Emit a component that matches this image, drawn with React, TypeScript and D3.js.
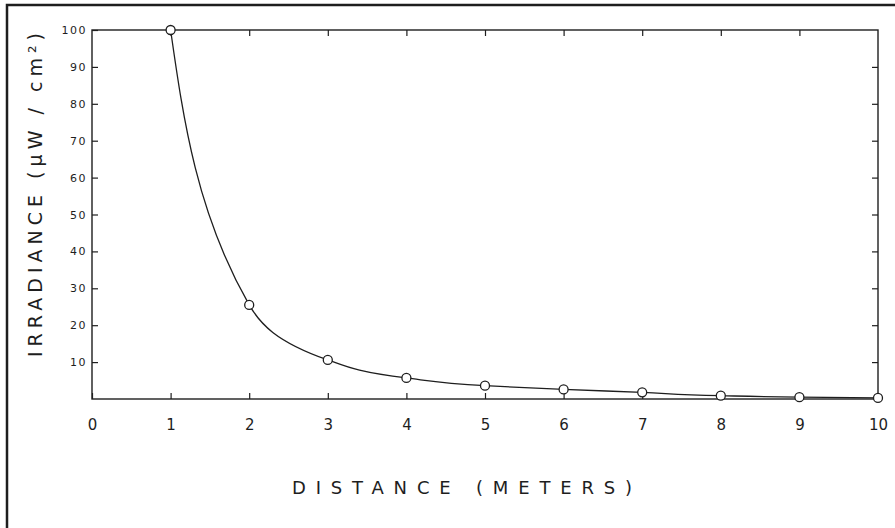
import React, { useEffect, useRef } from 'react';
import * as d3 from 'd3';

// values
const distance = [1, 2, 3, 4, 5, 6, 7, 8, 9, 10];
const irradiance = [100, 25.5, 10.6, 5.7, 3.6, 2.6, 1.8, 0.9, 0.5, 0.3];
const yTicks = [10, 20, 30, 40, 50, 60, 70, 80, 90, 100];
const xTicks = [0, 1, 2, 3, 4, 5, 6, 7, 8, 9, 10];

const W = 895, H = 528;
const FONT = '"DejaVu Sans", sans-serif';
const INK = '#1e1e1e';

export default function App() {
  const ref = useRef<SVGSVGElement>(null);

  useEffect(() => {
    document.body.style.margin = '0';
    document.body.style.overflow = 'hidden';
    const svg = d3.select(ref.current);
    svg.selectAll('*').remove();

    const margin = { top: 30, right: 17, bottom: 129, left: 92 };
    const x = d3.scaleLinear().domain([0, 10]).range([margin.left, W - margin.right]);
    const y = d3.scaleLinear().domain([0, 100]).range([H - margin.bottom, margin.top]);

    // top and left edge of the page frame
    svg.append('path')
      .attr('d', `M7,${H + 5} L7,5 L${W + 5},5`)
      .attr('fill', 'none')
      .attr('stroke', INK)
      .attr('stroke-width', 2.5);

    // plot box
    svg.append('rect')
      .attr('x', x(0)).attr('y', y(100))
      .attr('width', x(10) - x(0)).attr('height', y(0) - y(100))
      .attr('fill', 'none').attr('stroke', INK).attr('stroke-width', 1.4);

    const styleAxis = (g: any, size: number) => {
      g.select('.domain').remove();
      g.selectAll('line').attr('stroke', INK).attr('stroke-width', 1.2);
      g.selectAll('text')
        .attr('fill', INK)
        .style('font-family', FONT)
        .style('font-size', size + 'px');
    };

    // left axis with labels
    svg.append('g')
      .attr('transform', `translate(${x(0)},0)`)
      .call(d3.axisLeft(y).tickValues(yTicks).tickSizeInner(-6).tickSizeOuter(0).tickPadding(5).tickFormat(d3.format('d')))
      .call((g: any) => styleAxis(g, 11))
      .selectAll('text').style('letter-spacing', '1.5px');

    // right axis ticks
    svg.append('g')
      .attr('transform', `translate(${x(10)},0)`)
      .call(d3.axisRight(y).tickValues(yTicks.slice(0, 9)).tickSizeInner(-6).tickSizeOuter(0).tickFormat(() => ''))
      .call((g: any) => styleAxis(g, 11));

    // bottom axis with labels
    svg.append('g')
      .attr('transform', `translate(0,${y(0)})`)
      .call(d3.axisBottom(x).tickValues(xTicks).tickSizeInner(-6).tickSizeOuter(0).tickPadding(20).tickFormat(d3.format('d')))
      .call((g: any) => styleAxis(g, 15));

    // top axis ticks
    svg.append('g')
      .attr('transform', `translate(0,${y(100)})`)
      .call(d3.axisTop(x).tickValues(xTicks.slice(1, 10)).tickSizeInner(-6).tickSizeOuter(0).tickFormat(() => ''))
      .call((g: any) => styleAxis(g, 11));

    // curve through the measured points
    const pts = distance.map((d, i) => [d, irradiance[i]] as [number, number]);
    const line = d3.line<[number, number]>()
      .x(d => x(d[0]))
      .y(d => y(d[1]))
      .curve(d3.curveMonotoneY);

    svg.append('path')
      .datum(pts)
      .attr('d', line)
      .attr('fill', 'none')
      .attr('stroke', INK)
      .attr('stroke-width', 1.3);

    svg.selectAll('circle.pt')
      .data(pts)
      .join('circle')
      .attr('class', 'pt')
      .attr('cx', d => x(d[0]))
      .attr('cy', d => y(d[1]))
      .attr('r', 4.5)
      .attr('fill', 'white')
      .attr('stroke', INK)
      .attr('stroke-width', 1.3);

    // x title
    svg.append('text')
      .attr('x', 292).attr('y', 494)
      .attr('textLength', 340).attr('lengthAdjust', 'spacing')
      .style('font-family', FONT).style('font-size', '18px')
      .attr('fill', INK)
      .text('DISTANCE   (METERS)');

    // y title
    svg.append('text')
      .attr('transform', 'translate(42,357) rotate(-90)')
      .attr('textLength', 324).attr('lengthAdjust', 'spacing')
      .style('font-family', FONT).style('font-size', '19px')
      .attr('fill', INK)
      .text('IRRADIANCE   (\u03bcW / cm\u00b2)');
  }, []);

  return (
    <svg ref={ref} width={W} height={H}
      style={{ display: 'block', background: 'white' }} />
  );
}
